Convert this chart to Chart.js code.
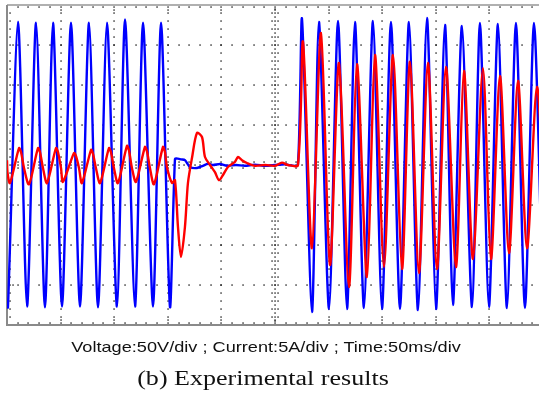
<!DOCTYPE html>
<html>
<head>
<meta charset="utf-8">
<script src="https://cdn.jsdelivr.net/npm/chart.js@4/dist/chart.umd.min.js"></script>
<style>
  html, body { margin: 0; padding: 0; background: #fff; overflow: hidden; }
  #wrap { position: relative; width: 539px; height: 401px; }
  canvas { position: absolute; left: 0; top: 0; }
  .cap { position: absolute; white-space: nowrap; line-height: 1; color: #111; transform: translateX(-50%) scaleX(1.27); }
  #cap1 { left: 266px; top: 340px; font-family: "Liberation Sans", Arial, sans-serif; font-size: 14.3px; }
  #cap2 { left: 263px; top: 368px; font-family: "Liberation Serif", "Times New Roman", serif; font-size: 20.5px; }
</style>
</head>
<body>
<div id="wrap">
  <canvas id="c" width="539" height="401"></canvas>
  <div class="cap" id="cap1">Voltage:50V/div ; Current:5A/div ; Time:50ms/div</div>
  <div class="cap" id="cap2">(b) Experimental results</div>
</div>
<script>
// ---- Data (time in ms, voltage in V, current in A) ----
const voltTime = [0, 0.9, 10.3, 18.7, 27.1, 35.4, 42.9, 51.3, 59.7, 68.1, 76.5, 84.9, 93.3, 102.6, 110.1, 119.4, 126.9, 136.2, 143.7, 152.0,
  156.7, 159.5, 162.3, 166.0, 170.7, 177.2, 182.8, 187.5, 192.2, 198.7, 205.2, 213.6, 222.0, 231.3, 240.7, 250.0, 259.4, 265.0, 271.4,
  275.2, 284.5, 291.0, 300.4, 308.8, 317.2, 324.6, 333.0, 341.4, 349.8, 358.2, 366.6, 375.0, 383.4, 391.8, 400.2, 408.6, 416.0, 424.4, 433.8,
  441.2, 449.6, 458.0, 466.4, 474.8, 483.2, 491.6, 500.0];
const voltValues = [-170, -178, 179, -177, 178, -178, 178, -177, 178, -177, 178, -178, 178, -177, 182, -177, 178, -177, 178, -177,
  7.5, 8, 7, 6, -2.5, -3.75, -1, 1.5, 0, 1.25, -1, 0, -1, 0.5, -1, 0, 1, -0.5, 0,
  182.5, -183.75, 178.75, -180, 180, -180, 178.75, -178.75, 180, -180, 178.75, -180, 178.75, -181.25, 183.75, -180, 175, -175, 173.75, -177.5,
  177.5, -177.5, 176.25, -178.75, 177.5, -178.75, 177.5, -178];

const currTime = [0, 0.5, 2.8, 11.2, 13.1, 15.9, 20.5, 28.9, 30.8, 33.6, 37.3, 45.7, 47.6, 50.4, 52.2, 62.5, 64.4, 67.2, 69.9, 78.4, 80.2, 83.0,
  86.8, 95.1, 97.0, 99.8, 103.5, 111.9, 113.8, 116.6, 120.3, 128.7, 130.6, 133.4, 137.1, 145.5, 147.4, 149.2, 153.9,
  156.7, 159.5, 162.3, 166.0, 168.8, 172.6, 177.2, 181.9, 184.7, 189.4, 194.0, 197.8, 201.5, 206.1, 212.6, 215.5, 219.2, 223.9, 231.3, 240.7,
  250.0, 256.5, 262.1, 271.4,
  276.1, 284.5, 292.9, 301.3, 309.7, 319.0, 326.5, 335.8, 343.3, 351.7, 360.1, 368.5, 375.9, 384.3, 392.7, 401.1, 409.5, 418.8, 426.3, 434.7,
  444.0, 451.5, 459.9, 468.3, 476.7, 485.1, 494.4, 502.8];
const currValues = [0.6, -1.0,
  -2.25, 2.1, 1.6, -0.4,  -2.4, 2.1, 1.6, -0.4,  -2.25, 2.1, 1.6, -0.4,  -2.1, 1.5, 1.1, -0.4,  -2.25, 1.9, 1.4, -0.4,
  -2.25, 2.1, 1.6, -0.4,  -2.25, 2.4, 1.8, -0.4,  -2.1, 2.25, 1.7, -0.4,  -2.4, 2.25, 1.6, -0.25,  -2.25,
  -1.9, -7.75, -11.5, -7.75, -2.25, 0.9, 4.0, 3.5, 1.0, 0, -0.9, -1.9, -1.25, -0.25, 0.4, 1.0, 0.6, 0.25, -0.1, 0,
  -0.1, 0.3, 0, 0,
  15.4, -10.4, 16.5, -12.5, 12.75, -15.25, 12.6, -14.0, 13.75, -12.75, 13.75, -13.0, 12.9, -13.5, 12.75, -13.0, 12.25, -12.75, 11.75, -11.75,
  12.1, -11.75, 11.1, -11.0, 10.5, -10.4, 9.75, -10.0];

// Screen divisions: 50 ms/div, 50 V/div, 5 A/div
const timeRange = [0, 496.3];
const voltRange = [-200, 200];
const currRange = [-20, 20];
const majorTimes = [0, 50, 100, 150, 200, 250, 300, 350, 400, 450];
const majorVolts = [-150, -100, -50, 0, 50, 100, 150];

const scopeGrid = {
  id: 'scopeGrid',
  beforeDatasetsDraw(chart) {
    const { ctx, chartArea: a, scales } = chart;
    const xs = scales.x, ys = scales.yV;
    const px = t => xs.getPixelForValue(t);
    const py = v => ys.getPixelForValue(v);
    ctx.save();
    ctx.fillStyle = '#000';
    const dot = (x, y) => ctx.fillRect(Math.round(x) - 0.6, Math.round(y) - 0.6, 1.3, 1.3);
    const minorV = []; for (let v = voltRange[0]; v <= voltRange[1]; v += 10) minorV.push(v);
    const minorT = []; for (let t = 0; t <= timeRange[1]; t += 10) minorT.push(t);
    majorTimes.forEach(t => {
      if (t === 0) return;
      const x = px(t);
      if (t === 250) {
        for (let v = voltRange[0]; v <= voltRange[1]; v += 5) dot(x, py(v));
        minorV.forEach(v => { dot(x - 3, py(v)); dot(x + 3, py(v)); });
      } else {
        minorV.forEach(v => dot(x, py(v)));
      }
      dot(x, a.top + 5); dot(x, a.bottom - 5);
    });
    majorVolts.forEach(v => {
      const y = py(v);
      if (v === 0) {
        for (let t = 0; t <= timeRange[1]; t += 5) dot(px(t), y);
        minorT.forEach(t => { dot(px(t), y - 3); dot(px(t), y + 3); });
      } else {
        minorT.forEach(t => dot(px(t), y));
      }
      dot(a.left + 6, y);
    });
    minorT.forEach(t => { dot(px(t), a.top + 2); dot(px(t), a.bottom - 2); });
    minorV.forEach(v => dot(a.left + 3, py(v)));
    ctx.lineWidth = 2;
    ctx.strokeStyle = '#b0b0b0';
    ctx.beginPath(); ctx.moveTo(a.left, a.top); ctx.lineTo(a.right, a.top); ctx.stroke();
    ctx.strokeStyle = '#8a8a8a';
    ctx.beginPath(); ctx.moveTo(a.left, a.top); ctx.lineTo(a.left, a.bottom); ctx.lineTo(a.right, a.bottom); ctx.stroke();
    ctx.restore();
  }
};

new Chart(document.getElementById('c'), {
  type: 'line',
  data: {
    datasets: [
      {
        label: 'Current',
        data: currTime.map((t, i) => ({ x: t, y: currValues[i] })),
        yAxisID: 'yA',
        borderColor: '#ff0000',
        borderWidth: 2.4,
        pointRadius: 0,
        tension: 0.28
      },
      {
        label: 'Voltage',
        data: voltTime.map((t, i) => ({ x: t, y: voltValues[i] })),
        yAxisID: 'yV',
        borderColor: '#0000ff',
        borderWidth: 2.4,
        pointRadius: 0,
        tension: 0.25
      }
    ]
  },
  options: {
    responsive: false,
    animation: false,
    devicePixelRatio: 1,
    layout: { padding: { left: 7, top: 5, right: 0, bottom: 76 } },
    scales: {
      x: { type: 'linear', min: timeRange[0], max: timeRange[1], display: false },
      yV: { type: 'linear', min: voltRange[0], max: voltRange[1], display: false },
      yA: { type: 'linear', min: currRange[0], max: currRange[1], display: false }
    },
    plugins: { legend: { display: false }, tooltip: { enabled: false } }
  },
  plugins: [scopeGrid]
});
</script>
</body>
</html>
